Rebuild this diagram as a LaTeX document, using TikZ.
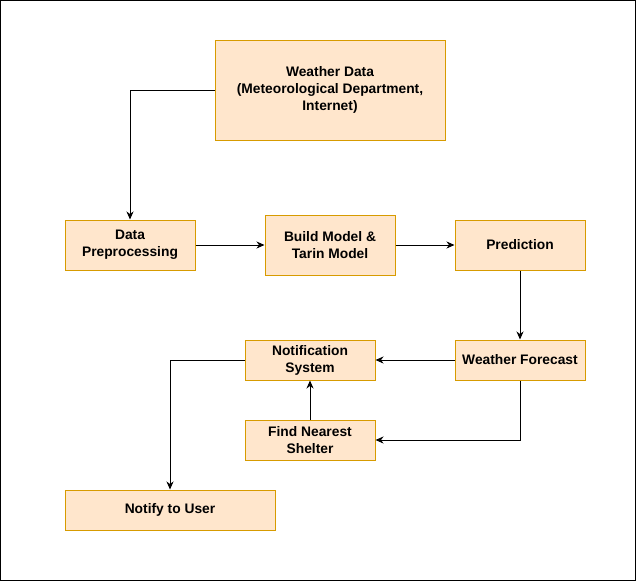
\documentclass[tikz,border=0pt]{standalone}
\usepackage{fontspec}
\setmainfont{Liberation Sans}
\usetikzlibrary{arrows.meta}
\definecolor{boxfill}{HTML}{FFE6CC}
\definecolor{boxline}{HTML}{D79B00}
\tikzset{
  box/.style={draw=boxline, fill=boxfill, line width=1pt, align=center,
    font=\fontsize{13.8}{17}\selectfont\bfseries, inner sep=0pt},
  conn/.style={draw=black, line width=1pt, -{Stealth[length=8pt,width=7pt,inset=2.5pt]}}
}
\newcommand{\dn}[1]{\raisebox{-1.5pt}{#1}}
\begin{document}
\begin{tikzpicture}[x=1pt,y=-1pt]
\useasboundingbox (0,0) rectangle (636,581);
\draw[line width=1.2pt] (0.6,0.6) rectangle (635.2,580.2);
\node[box, minimum width=230pt, minimum height=100pt] (wd) at (330,90) {\dn{Weather Data}\\\dn{(Meteorological Department,}\\\dn{Internet)}};
\node[box, minimum width=130pt, minimum height=50pt] (dp) at (130,245) {\dn{Data}\\\dn{Preprocessing}};
\node[box, minimum width=130pt, minimum height=60pt] (bm) at (330,245) {\dn{Build Model \&}\\\dn{Tarin Model}};
\node[box, minimum width=130pt, minimum height=50pt] (pr) at (520,245) {\dn{Prediction}};
\node[box, minimum width=130pt, minimum height=40pt] (wf) at (520,360) {\dn{Weather Forecast}};
\node[box, minimum width=130pt, minimum height=40pt] (ns) at (310,360) {\dn{Notification}\\\dn{System}};
\node[box, minimum width=130pt, minimum height=40pt] (fs) at (310,440) {\dn{Find Nearest}\\\dn{Shelter}};
\node[box, minimum width=210pt, minimum height=40pt] (nu) at (170,510) {\dn{Notify to User}};
\draw[conn] (wd.west) -| (dp.north);
\draw[conn] (dp.east) -- (bm.west);
\draw[conn] (bm.east) -- (pr.west);
\draw[conn] (pr.south) -- (wf.north);
\draw[conn] (wf.west) -- (ns.east);
\draw[conn] (wf.south) |- (fs.east);
\draw[conn] (fs.north) -- (ns.south);
\draw[conn] (ns.west) -| (nu.north);
\end{tikzpicture}
\end{document}
